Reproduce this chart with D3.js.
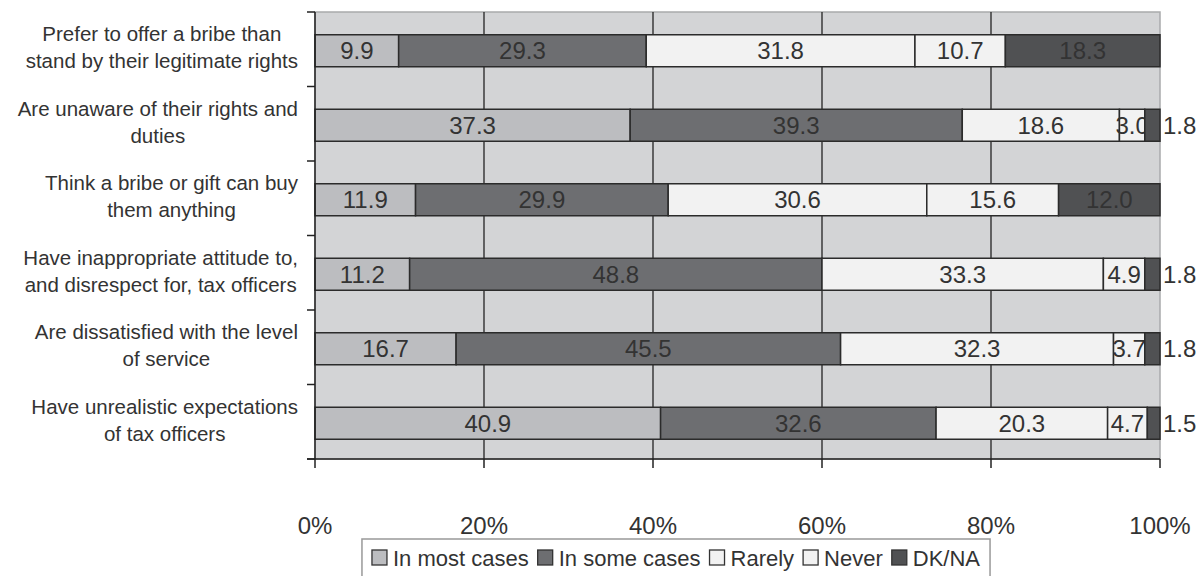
<!DOCTYPE html>
<html>
<head>
<meta charset="utf-8">
<script src="https://cdn.jsdelivr.net/npm/d3@7"></script>
<style>
  body { margin: 0; background: #fff; }
  text { font-family: "Liberation Sans", Arial, sans-serif; fill: #333; }
</style>
</head>
<body>
<div id="chart"></div>
<script>
//Chart data
var categories = [
    ["Prefer to offer a bribe than", "stand by their legitimate rights"],
    ["Are unaware of their rights and", "duties"],
    ["Think a bribe or gift can buy", "them anything"],
    ["Have inappropriate attitude to,", "and disrespect for, tax officers"],
    ["Are dissatisfied with the level", "of service"],
    ["Have unrealistic expectations", "of tax officers"]
];
var seriesNames = ["In most cases", "In some cases", "Rarely", "Never", "DK/NA"];
var inMostCases = [9.9, 37.3, 11.9, 11.2, 16.7, 40.9];
var inSomeCases = [29.3, 39.3, 29.9, 48.8, 45.5, 32.6];
var rarely = [31.8, 18.6, 30.6, 33.3, 32.3, 20.3];
var never = [10.7, 3.0, 15.6, 4.9, 3.7, 4.7];
var dkna = [18.3, 1.8, 12.0, 1.8, 1.8, 1.5];
var xTicks = [0, 20, 40, 60, 80, 100];

var colors = ["#bcbdc0", "#6d6e71", "#f2f2f2", "#f2f2f2", "#505153"];

//Configuration
var width = 1199, height = 576;
var plot = { left: 315, right: 1160, top: 12, bottom: 459 };

var svg = d3.select("#chart").append("svg")
    .attr("width", width)
    .attr("height", height);

//Scales
var x = d3.scaleLinear().domain([0, 100]).range([plot.left, plot.right]);
var y = d3.scaleBand().domain(d3.range(categories.length))
    .range([plot.top, plot.bottom]);

//Plot background
svg.append("rect")
    .attr("x", plot.left).attr("y", plot.top)
    .attr("width", plot.right - plot.left).attr("height", plot.bottom - plot.top)
    .attr("fill", "#d3d4d6")
    .attr("stroke", "#a9aaac")
    .attr("stroke-width", 1.5);

//Vertical gridlines
svg.append("g").selectAll("line")
    .data(xTicks.filter(function(d) { return d > 0 && d < 100; }))
    .enter().append("line")
        .attr("x1", function(d) { return x(d); })
        .attr("x2", function(d) { return x(d); })
        .attr("y1", plot.top).attr("y2", plot.bottom)
        .attr("stroke", "#222").attr("stroke-width", 1.3);

//Stack the series per category
var rows = categories.map(function(c, i) {
    return [inMostCases[i], inSomeCases[i], rarely[i], never[i], dkna[i]];
});

var barH = 32;
rows.forEach(function(vals, i) {
    var cy = y(i) + y.bandwidth() / 2 + 1.5;
    var start = 0;
    vals.forEach(function(v, k) {
        var x0 = x(start), x1 = x(start + v);
        svg.append("rect")
            .attr("x", x0).attr("y", cy - barH / 2)
            .attr("width", x1 - x0).attr("height", barH)
            .attr("fill", colors[k])
            .attr("stroke", "#2b2b2b")
            .attr("stroke-width", 1.5);
        //small DK/NA values sit outside the bar
        var outside = (k === 4 && v < 5);
        svg.append("text")
            .attr("x", outside ? plot.right + 3 : (x0 + x1) / 2)
            .attr("y", cy)
            .attr("dy", "0.36em")
            .attr("text-anchor", outside ? "start" : "middle")
            .style("font-size", "24px")
            .text(v.toFixed(1));
        start += v;
    });
});

//Left axis
var left = svg.append("g");
left.append("line")
    .attr("x1", plot.left).attr("x2", plot.left)
    .attr("y1", plot.top).attr("y2", plot.bottom)
    .attr("stroke", "#222").attr("stroke-width", 1.5);
left.selectAll("line.tick")
    .data(d3.range(categories.length + 1))
    .enter().append("line")
        .attr("class", "tick")
        .attr("x1", plot.left - 8).attr("x2", plot.left)
        .attr("y1", function(d) { return plot.top + d * y.step(); })
        .attr("y2", function(d) { return plot.top + d * y.step(); })
        .attr("stroke", "#222").attr("stroke-width", 1.5);

//Category labels: lines centred on each other, block right-aligned
var labelRight = 298;
categories.forEach(function(lines, i) {
    var cy = y(i) + y.bandwidth() / 2;
    var t = svg.append("text")
        .attr("text-anchor", "middle")
        .style("font-size", "20.5px");
    var spans = t.selectAll("tspan")
        .data(lines)
        .enter().append("tspan")
            .attr("y", function(d, j) { return cy - 8 + j * 27; })
            .text(function(d) { return d; });
    var maxW = d3.max(spans.nodes(), function(n) { return n.getComputedTextLength(); });
    spans.attr("x", labelRight - maxW / 2);
});

//Bottom axis
var bottom = svg.append("g");
bottom.append("line")
    .attr("x1", plot.left - 8).attr("x2", plot.right)
    .attr("y1", plot.bottom).attr("y2", plot.bottom)
    .attr("stroke", "#222").attr("stroke-width", 1.5);
bottom.selectAll("line.tick")
    .data(xTicks)
    .enter().append("line")
        .attr("class", "tick")
        .attr("x1", function(d) { return x(d); })
        .attr("x2", function(d) { return x(d); })
        .attr("y1", plot.bottom).attr("y2", plot.bottom + 9)
        .attr("stroke", "#222").attr("stroke-width", 1.5);
bottom.selectAll("text")
    .data(xTicks)
    .enter().append("text")
        .attr("x", function(d) { return x(d); })
        .attr("y", 534)
        .attr("text-anchor", "middle")
        .style("font-size", "24px")
        .text(function(d) { return d + "%"; });

//Legend
var legend = svg.append("g");
var box = legend.append("rect")
    .attr("y", 539)
    .attr("height", 50)
    .attr("fill", "#fff")
    .attr("stroke", "#999").attr("stroke-width", 1.5);
var items = legend.append("g");
var lx = 0;
seriesNames.forEach(function(name, k) {
    items.append("rect")
        .attr("x", lx).attr("y", 550)
        .attr("width", 15).attr("height", 15)
        .attr("fill", colors[k])
        .attr("stroke", "#333").attr("stroke-width", 1.3);
    var t = items.append("text")
        .attr("x", lx + 21).attr("y", 566)
        .style("font-size", "22px")
        .text(name);
    lx += 21 + t.node().getComputedTextLength() + 9;
});
var contentW = lx - 9;
var boxW = contentW + 20;
var boxX = 676 - boxW / 2;
box.attr("x", boxX).attr("width", boxW);
items.attr("transform", "translate(" + (boxX + 10) + ",0)");
</script>
</body>
</html>
